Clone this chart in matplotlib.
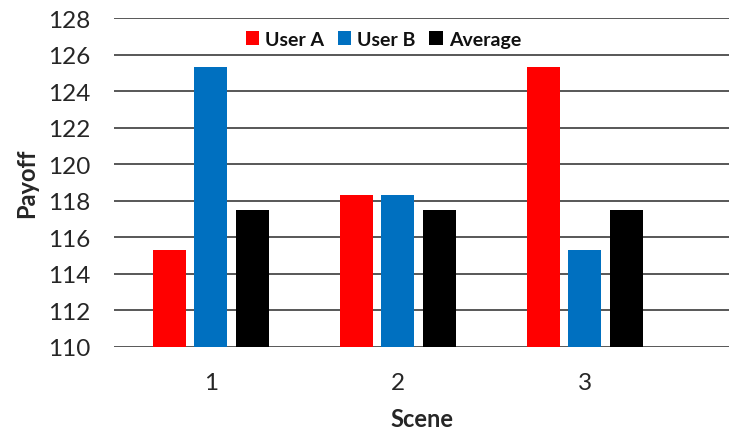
import numpy as np
import matplotlib
matplotlib.use("Agg")
import matplotlib.pyplot as plt

plt.rcParams['font.family'] = ['Lato', 'DejaVu Sans']

scenes = ["1", "2", "3"]
user_a = [115.3, 118.3, 125.3]
user_b = [125.3, 118.3, 115.3]
average = [117.5, 117.5, 117.5]
yticks = np.arange(110, 129, 2)

fig = plt.figure(figsize=(7.29, 4.35), dpi=100)
ax = fig.add_axes([0.1564, 0.2, 0.8436, 0.7563])

x = np.arange(len(scenes))
w = 0.176
off = 0.222
ax.bar(x - off, user_a, w, color="#FF0000", label="User A", zorder=3)
ax.bar(x, user_b, w, color="#0070C0", label="User B", zorder=3)
ax.bar(x + off, average, w, color="#000000", label="Average", zorder=3)

ax.set_ylim(110, 128)
ax.set_xlim(-0.517, 2.77)
ax.set_yticks(yticks)
ax.set_xticks(x)
ax.set_xticklabels(scenes)
ax.grid(axis="y", color="#4a4a4a", lw=1.3, zorder=0)
for s in ax.spines.values():
    s.set_visible(False)
ax.tick_params(length=0, labelsize=17.5, colors="#262626")
ax.tick_params(axis="y", pad=17)
ax.tick_params(axis="x", pad=18)

ax.set_ylabel("Payoff", fontsize=17, fontweight="bold", color="#262626", labelpad=7)
ax.set_xlabel("Scene", fontsize=17, fontweight="bold", color="#262626", labelpad=10)

leg = fig.legend(loc="center", bbox_to_anchor=(0.526, 0.908), ncol=3, frameon=False,
                 handlelength=0.7, handleheight=0.7, handletextpad=0.3, columnspacing=0.7,
                 prop={"size": 14, "weight": "bold"})
for t in leg.get_texts():
    t.set_color("#111111")

fig.savefig("out.png", dpi=100)
